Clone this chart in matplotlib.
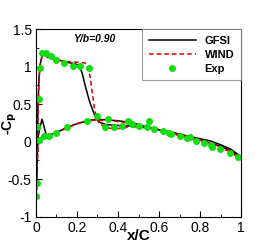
"""Cp distribution at Y/b=0.90."""
import matplotlib
matplotlib.use("Agg")
import matplotlib.pyplot as plt
from matplotlib.ticker import MultipleLocator

plt.rcParams['font.family'] = ['Liberation Sans', 'DejaVu Sans']

# GFSI, upper surface (leading edge to trailing edge)
gfsi_up_x = [0.0, 0.005, 0.01, 0.015, 0.02, 0.03, 0.04, 0.06, 0.1, 0.15, 0.19, 0.21,
             0.225, 0.24, 0.26, 0.28, 0.295, 0.31, 0.34, 0.38, 0.45, 0.5, 0.55, 0.6,
             0.7, 0.8, 0.85, 0.9, 0.95, 1.0]
gfsi_up_y = [-0.85, -0.2, 0.45, 0.85, 1.02, 1.15, 1.17, 1.14, 1.1, 1.06, 1.04, 1.02,
             0.92, 0.75, 0.55, 0.4, 0.3, 0.26, 0.23, 0.22, 0.21, 0.2, 0.18, 0.16,
             0.1, 0.04, 0.01, -0.04, -0.1, -0.2]
# GFSI, lower surface
gfsi_lo_x = [0.0, 0.01, 0.02, 0.03, 0.04, 0.05, 0.08, 0.1, 0.15, 0.2, 0.25, 0.3,
             0.35, 0.4, 0.45, 0.5, 0.55, 0.6, 0.65, 0.7, 0.75, 0.8, 0.85, 0.9,
             0.95, 1.0]
gfsi_lo_y = [-0.85, 0.05, 0.2, 0.3, 0.2, 0.09, 0.1, 0.12, 0.19, 0.24, 0.28, 0.3,
             0.29, 0.28, 0.26, 0.23, 0.19, 0.16, 0.13, 0.1, 0.06, 0.02, -0.02,
             -0.06, -0.12, -0.21]

# WIND, upper surface
wind_up_x = [0.0, 0.005, 0.01, 0.015, 0.02, 0.03, 0.04, 0.06, 0.1, 0.15, 0.2, 0.24,
             0.255, 0.265, 0.275, 0.285, 0.295, 0.31, 0.34, 0.38, 0.42, 0.46, 0.5,
             0.55, 0.6, 0.7, 0.8, 0.85, 0.9, 0.95, 1.0]
wind_up_y = [-0.85, -0.35, 0.3, 0.8, 1.0, 1.14, 1.16, 1.12, 1.09, 1.07, 1.06, 1.05,
             1.0, 0.85, 0.65, 0.45, 0.32, 0.24, 0.19, 0.17, 0.18, 0.2, 0.2, 0.18,
             0.15, 0.08, 0.02, -0.02, -0.07, -0.13, -0.24]
# WIND, lower surface
wind_lo_x = [0.0, 0.01, 0.02, 0.03, 0.05, 0.08, 0.1, 0.15, 0.2, 0.25, 0.3, 0.35,
             0.4, 0.45, 0.5, 0.55, 0.6, 0.65, 0.7, 0.75, 0.8, 0.85, 0.9, 0.95, 1.0]
wind_lo_y = [-0.85, -0.1, 0.05, 0.07, 0.08, 0.1, 0.12, 0.18, 0.24, 0.28, 0.29,
             0.28, 0.27, 0.25, 0.22, 0.19, 0.16, 0.13, 0.09, 0.06, 0.02, -0.03,
             -0.08, -0.14, -0.24]

# experiment
exp_x = [0.0, 0.003, 0.003, 0.013, 0.021, 0.016, 0.029, 0.049, 0.073, 0.1, 0.138,
         0.179, 0.215, 0.259, 0.3, 0.349, 0.339, 0.38, 0.419, 0.45, 0.467, 0.5,
         0.54, 0.55, 0.039, 0.065, 0.1, 0.15, 0.25, 0.577, 0.617, 0.65, 0.66, 0.7,
         0.736, 0.75, 0.78, 0.818, 0.853, 0.86, 0.896, 0.948, 0.984]
exp_y = [-0.72, -0.555, 0.19, 0.575, 0.98, 0.02, 1.19, 1.19, 1.14, 1.09, 1.055,
         1.006, 1.01, 0.98, 0.34, 0.3, 0.2, 0.19, 0.21, 0.27, 0.237, 0.215, 0.2,
         0.27, 0.08, 0.08, 0.12, 0.19, 0.28, 0.165, 0.143, 0.12, 0.1, 0.08, 0.055,
         0.06, 0.01, -0.02, -0.04, -0.065, -0.097, -0.155, -0.21]

fig = plt.figure(figsize=(2.74, 2.44), dpi=100)
ax = fig.add_axes([0.131, 0.112, 0.749, 0.768])

ax.plot(gfsi_up_x, gfsi_up_y, color='black', lw=1.1, label='GFSI')
ax.plot(gfsi_lo_x, gfsi_lo_y, color='black', lw=1.1)
ax.plot(wind_up_x, wind_up_y, color='#dd0000', lw=1.1, ls=(0, (3, 2)), label='WIND')
ax.plot(wind_lo_x, wind_lo_y, color='#dd0000', lw=1.1, ls=(0, (3, 2)))
ax.plot(exp_x, exp_y, 'o', color='#11dd11', ms=4, ls='none', label='Exp')

ax.set_xlim(0, 1)
ax.set_ylim(-1, 1.5)
ax.set_xticks([0, 0.2, 0.4, 0.6, 0.8, 1])
ax.set_xticklabels(['0', '0.2', '0.4', '0.6', '0.8', '1'])
ax.set_yticks([-1, -0.5, 0, 0.5, 1, 1.5])
ax.set_yticklabels(['-1', '-0.5', '0', '0.5', '1', '1.5'])
ax.xaxis.set_minor_locator(MultipleLocator(0.1))
ax.yaxis.set_minor_locator(MultipleLocator(0.25))
ax.tick_params(which='both', direction='in', labelsize=10, pad=3)
ax.tick_params(which='major', length=4)
ax.tick_params(which='minor', length=2)

ax.set_xlabel('x/C', fontsize=11, fontweight='bold')
ax.xaxis.set_label_coords(0.5, -0.065)
ax.set_ylabel('-C$_\\mathbf{p}$', fontsize=10, fontweight='bold')
ax.yaxis.set_label_coords(-0.08, 0.5)

ax.text(0.18, 1.33, 'Y/b=0.90', fontsize=7.5, fontweight='bold', style='italic')

leg = ax.legend(loc='upper right', frameon=True, fancybox=False,
                edgecolor='#888888', handlelength=4.2, handletextpad=0.8,
                labelspacing=0.35, borderpad=0.6, borderaxespad=0,
                prop={'weight': 'bold', 'size': 8})
leg.get_frame().set_linewidth(0.8)

fig.savefig('out.png', dpi=100)
